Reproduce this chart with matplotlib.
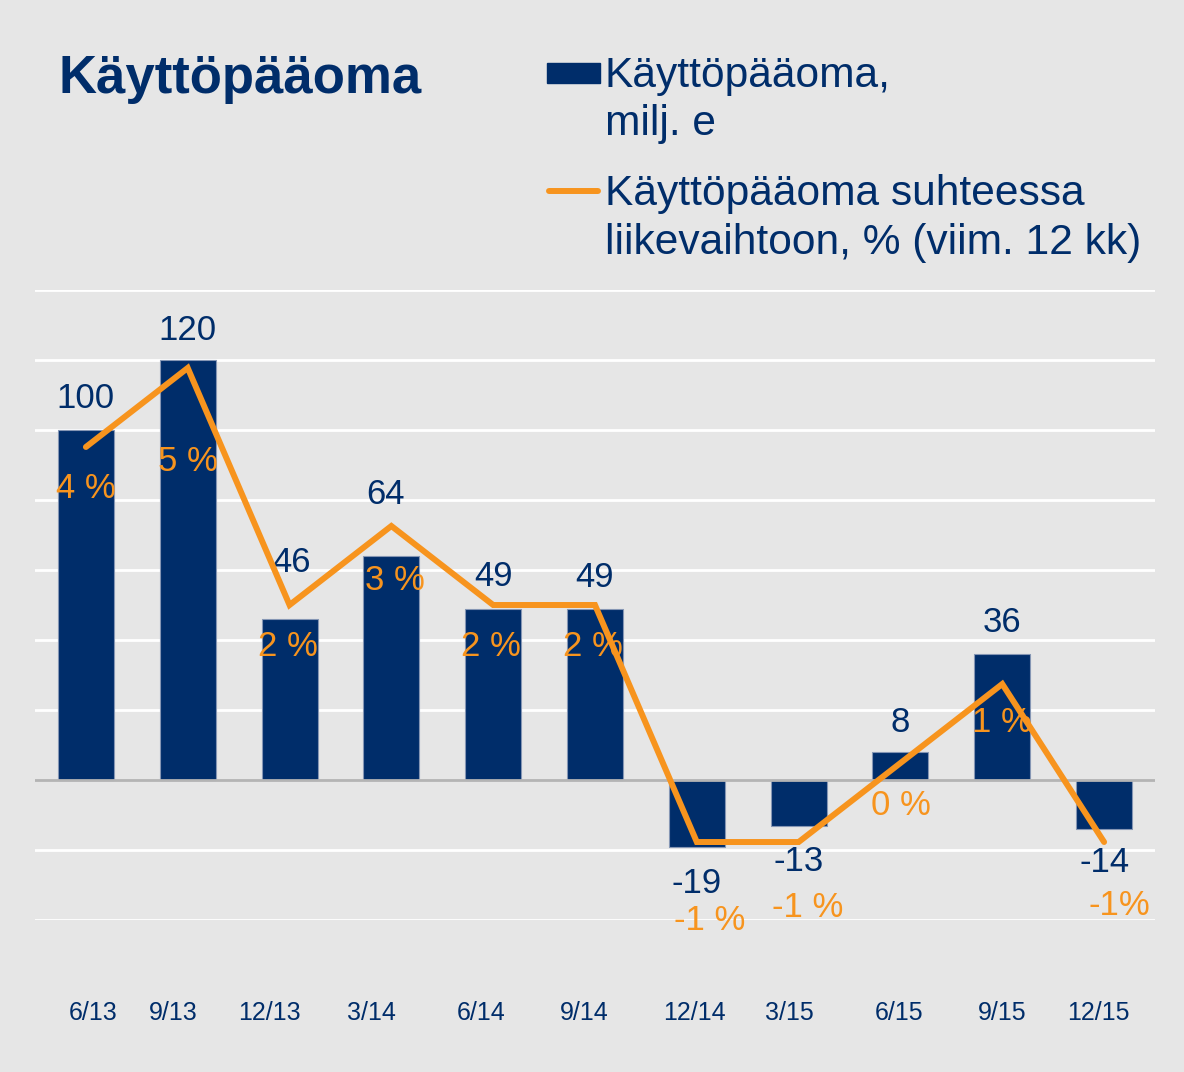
import numpy as np
import matplotlib.pyplot as plt
import matplotlib.transforms as mtransforms
from matplotlib.patches import Rectangle
from matplotlib.lines import Line2D

# data
periods = ['6/13', '9/13', '12/13', '3/14', '6/14', '9/14', '12/14', '3/15', '6/15', '9/15', '12/15']
capital = [100, 120, 46, 64, 49, 49, -19, -13, 8, 36, -14]          # milj. e
pct = [4, 5, 2, 3, 2, 2, -1, -1, 0, 1, -1]                          # % liikevaihdosta
pct_labels = ['4 %', '5 %', '2 %', '3 %', '2 %', '2 %', '-1 %', '-1 %', '0 %', '1 %', '-1%']

navy = '#002d6a'
orange = '#f7941e'
bg = '#e6e6e6'
plt.rcParams['font.family'] = ['Liberation Sans', 'DejaVu Sans']

W, H = 1184, 1072
fig = plt.figure(figsize=(W / 100, H / 100), dpi=100, facecolor=bg)
# plot area: x 35..1155 px, y 290..920 px
ax = fig.add_axes([35 / W, (H - 920) / H, 1120 / W, 630 / H])
ax.set_facecolor('none')

x = np.arange(len(periods))
ax.bar(x, capital, width=0.55, color=navy, edgecolor='#8596b4', linewidth=0.8, zorder=3)
ax.set_xlim(-0.5, 10.5)
ax.set_ylim(-40, 140)

# gridlines
for g in range(-40, 141, 20):
    if g == 0:
        ax.axhline(0, color='#b4b4b4', lw=2, zorder=4)
    else:
        ax.axhline(g, color='white', lw=2, zorder=1)

for s in ax.spines.values():
    s.set_visible(False)
ax.set_yticks([])
ax.set_xticks(x)
ax.set_xticklabels(periods, color=navy, fontsize=18)
ax.tick_params(axis='x', length=0, pad=58)
# category labels are not exactly centred under the bars in the original
tick_dx = [7, -14, -20, -20, -12, -11, -2, -9, -1, 0, -6]
for lab, dx in zip(ax.get_xticklabels(), tick_dx):
    lab.set_transform(lab.get_transform() + mtransforms.ScaledTranslation(dx / 100, 0, fig.dpi_scale_trans))

# bar value labels (offsets in pixels)
bar_dy = [31, 30, 57, 62, 32, 31, -37, -36, 30, 31, -34]
bar_dx = [0, 0, 2, -6, 0, 0, 0, 0, 0, 0, 0]
for i, v in enumerate(capital):
    ax.annotate(str(v), (x[i], v), xytext=(bar_dx[i], bar_dy[i]), textcoords='offset pixels',
                ha='center', va='center', color=navy, fontsize=25, zorder=5)

# percentage line on secondary axis
ax2 = ax.twinx()
ax2.set_ylim(-1.987, 5.987)
ax2.plot(x, pct, color=orange, lw=4.3, solid_capstyle='round', solid_joinstyle='miter', zorder=6)
ax2.set_yticks([])
for s in ax2.spines.values():
    s.set_visible(False)

pct_off = [(0, -42), (0, -94), (-2, -41), (4, -55), (-2, -41), (-2, -41),
           (13, -78), (9, -65), (0, -42), (0, -38), (15, -63)]
for i, v in enumerate(pct):
    ax2.annotate(pct_labels[i], (x[i], v), xytext=pct_off[i], textcoords='offset pixels',
                 ha='center', va='center', color=orange, fontsize=25, zorder=5)

# title
fig.text(58 / W, (H - 93) / H, 'Käyttöpääoma', color=navy, fontsize=38,
         fontweight='bold', ha='left', va='baseline')

# legend
fig.patches.append(Rectangle((547 / W, (H - 83) / H), 53 / W, 20 / H, transform=fig.transFigure,
                             color=navy, figure=fig))
fig.lines.append(Line2D([549 / W, 598 / W], [(H - 191) / H] * 2, transform=fig.transFigure,
                        color=orange, lw=4.3, solid_capstyle='round', figure=fig))
leg_lines = [('Käyttöpääoma,', 87), ('milj. e', 135),
             ('Käyttöpääoma suhteessa', 205), ('liikevaihtoon, % (viim. 12 kk)', 254)]
for txt, yb in leg_lines:
    fig.text(605 / W, (H - yb) / H, txt, color=navy, fontsize=30.6, ha='left', va='baseline')

plt.savefig('out.png', dpi=100, facecolor=bg)
